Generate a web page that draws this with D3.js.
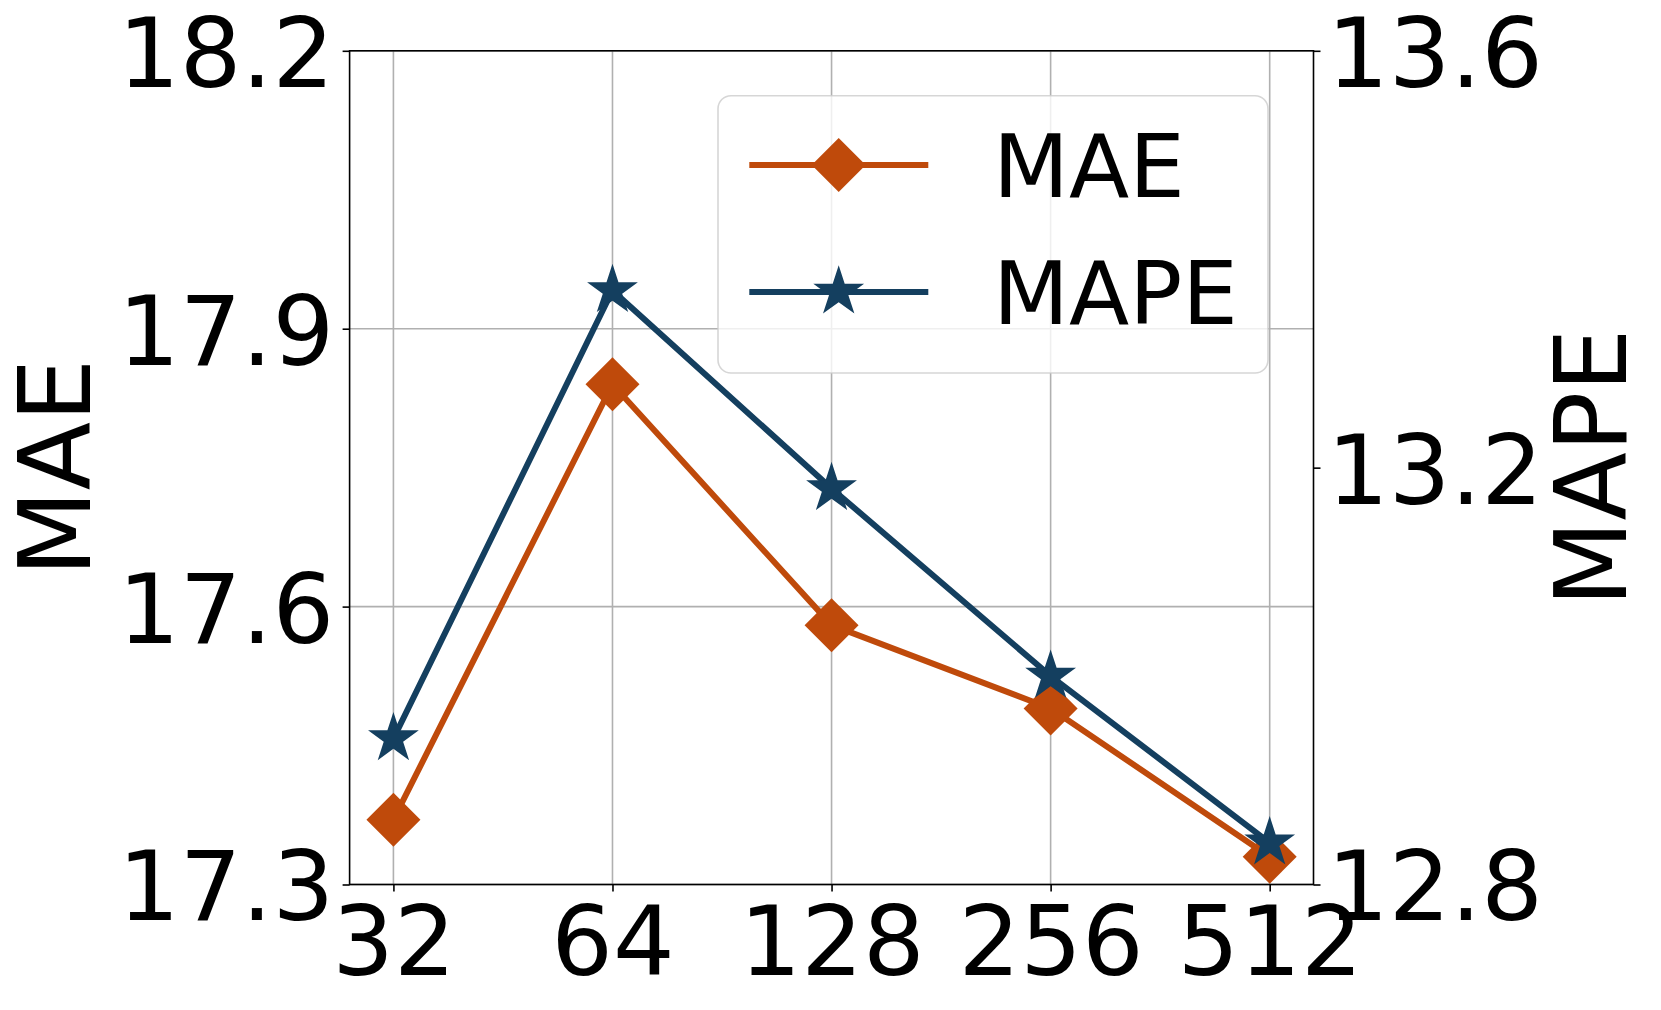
<!DOCTYPE html>
<html>
<head>
<meta charset="utf-8">
<script src="https://cdn.jsdelivr.net/npm/d3@7"></script>
<style>
  html, body { margin: 0; padding: 0; background: #fff; }
  svg { display: block; }
  text { font-family: "DejaVu Sans", sans-serif; fill: #000; }
</style>
</head>
<body>
<svg id="chart" width="1661" height="1010"></svg>
<script>
// ---- data ----
const categories = ["32", "64", "128", "256", "512"];
const maeValues  = [17.37, 17.84, 17.58, 17.49, 17.33];
const mapeValues = [12.94, 13.37, 13.18, 13.00, 12.84];
const leftTicks  = [17.3, 17.6, 17.9, 18.2];
const rightTicks = [12.8, 13.2, 13.6];
const seriesNames = ["MAE", "MAPE"];

// ---- style ----
const maeColor = "#bf4a0b";
const mapeColor = "#143f5f";
const L = 349.6, R = 1313.5, T = 50.8, B = 884.5;
const tickFont = 97, labelFont = 100, legendFont = 88;
const lineW = 6;

const svg = d3.select("#chart");

const x = d3.scalePoint().domain(categories).range([L, R]).padding(0.2);
const yL = d3.scaleLinear().domain([17.3, 18.2]).range([B, T]);
const yR = d3.scaleLinear().domain([12.8, 13.6]).range([B, T]);

// grid
const grid = svg.append("g");
grid.selectAll("line.v").data(categories).join("line")
  .attr("x1", d => x(d)).attr("x2", d => x(d)).attr("y1", T).attr("y2", B)
  .attr("stroke", "#b0b0b0").attr("stroke-width", 1.6);
grid.selectAll("line.h").data(leftTicks).join("line")
  .attr("x1", L).attr("x2", R).attr("y1", d => yL(d)).attr("y2", d => yL(d))
  .attr("stroke", "#b0b0b0").attr("stroke-width", 1.6);

// axes
const axB = svg.append("g").attr("transform", `translate(0,${B})`)
  .call(d3.axisBottom(x).tickSize(7).tickSizeOuter(0));
axB.selectAll("text").attr("y", 90.5).attr("dy", 0);

const axL = svg.append("g").attr("transform", `translate(${L},0)`)
  .call(d3.axisLeft(yL).tickValues(leftTicks).tickFormat(d3.format(".1f")).tickSize(7).tickPadding(8.5).tickSizeOuter(0));
axL.selectAll("text").attr("dy", "0.365em");

const axR = svg.append("g").attr("transform", `translate(${R},0)`)
  .call(d3.axisRight(yR).tickValues(rightTicks).tickFormat(d3.format(".1f")).tickSize(7).tickPadding(6.5).tickSizeOuter(0));
axR.selectAll("text").attr("dy", "0.365em");

[axB, axL, axR].forEach(a => {
  a.select(".domain").remove();
  a.selectAll("line").attr("stroke", "#000").attr("stroke-width", 1.6);
  a.selectAll("text").style("font-size", tickFont + "px").attr("fill", "#000");
});

// spines
svg.append("rect").attr("x", L).attr("y", T).attr("width", R - L).attr("height", B - T)
  .attr("fill", "none").attr("stroke", "#000").attr("stroke-width", 1.6);

// axis labels
svg.append("text").attr("transform", `translate(90,${(T + B) / 2}) rotate(-90)`)
  .attr("text-anchor", "middle").style("font-size", labelFont + "px").text("MAE");
svg.append("text").attr("transform", `translate(1626,${(T + B) / 2}) rotate(-90)`)
  .attr("text-anchor", "middle").style("font-size", labelFont + "px").text("MAPE");

// markers
const diamondPath = (h) => `M0,${-h}L${h},0L0,${h}L${-h},0Z`;
function starPath(r) {
  const ri = r * 0.381966;
  const pts = [];
  for (let i = 0; i < 10; i++) {
    const a = -Math.PI / 2 + i * Math.PI / 5;
    const rr = i % 2 === 0 ? r : ri;
    pts.push([rr * Math.cos(a), rr * Math.sin(a)]);
  }
  return "M" + pts.map(p => p[0].toFixed(2) + "," + p[1].toFixed(2)).join("L") + "Z";
}

// MAE series
const lineL = d3.line().x((d, i) => x(categories[i])).y(d => yL(d));
svg.append("path").datum(maeValues).attr("d", lineL)
  .attr("fill", "none").attr("stroke", maeColor).attr("stroke-width", lineW).attr("stroke-linejoin", "round");
svg.selectAll("path.mae").data(maeValues).join("path").attr("class", "mae")
  .attr("transform", (d, i) => `translate(${x(categories[i])},${yL(d)})`)
  .attr("d", diamondPath(27)).attr("fill", maeColor);

// MAPE series
const lineR = d3.line().x((d, i) => x(categories[i])).y(d => yR(d));
svg.append("path").datum(mapeValues).attr("d", lineR)
  .attr("fill", "none").attr("stroke", mapeColor).attr("stroke-width", lineW).attr("stroke-linejoin", "round");
svg.selectAll("path.mape").data(mapeValues).join("path").attr("class", "mape")
  .attr("transform", (d, i) => `translate(${x(categories[i])},${yR(d)})`)
  .attr("d", starPath(26.7)).attr("fill", mapeColor);

// legend
const lg = svg.append("g");
lg.append("rect").attr("x", 718).attr("y", 95.7).attr("width", 550).attr("height", 277.3)
  .attr("rx", 13).attr("ry", 13)
  .attr("fill", "#fff").attr("fill-opacity", 0.8)
  .attr("stroke", "#cccccc").attr("stroke-opacity", 0.8).attr("stroke-width", 1.6);
const legendRows = [
  { name: seriesNames[0], color: maeColor, marker: diamondPath(27), y: 165 },
  { name: seriesNames[1], color: mapeColor, marker: starPath(26.7), y: 292 }
];
legendRows.forEach(r => {
  lg.append("line").attr("x1", 749.3).attr("x2", 928.3).attr("y1", r.y).attr("y2", r.y)
    .attr("stroke", r.color).attr("stroke-width", lineW);
  lg.append("path").attr("transform", `translate(838.7,${r.y})`).attr("d", r.marker).attr("fill", r.color);
  lg.append("text").attr("x", 993).attr("y", r.y).attr("dy", "0.365em")
    .style("font-size", legendFont + "px").text(r.name);
});
</script>
</body>
</html>
